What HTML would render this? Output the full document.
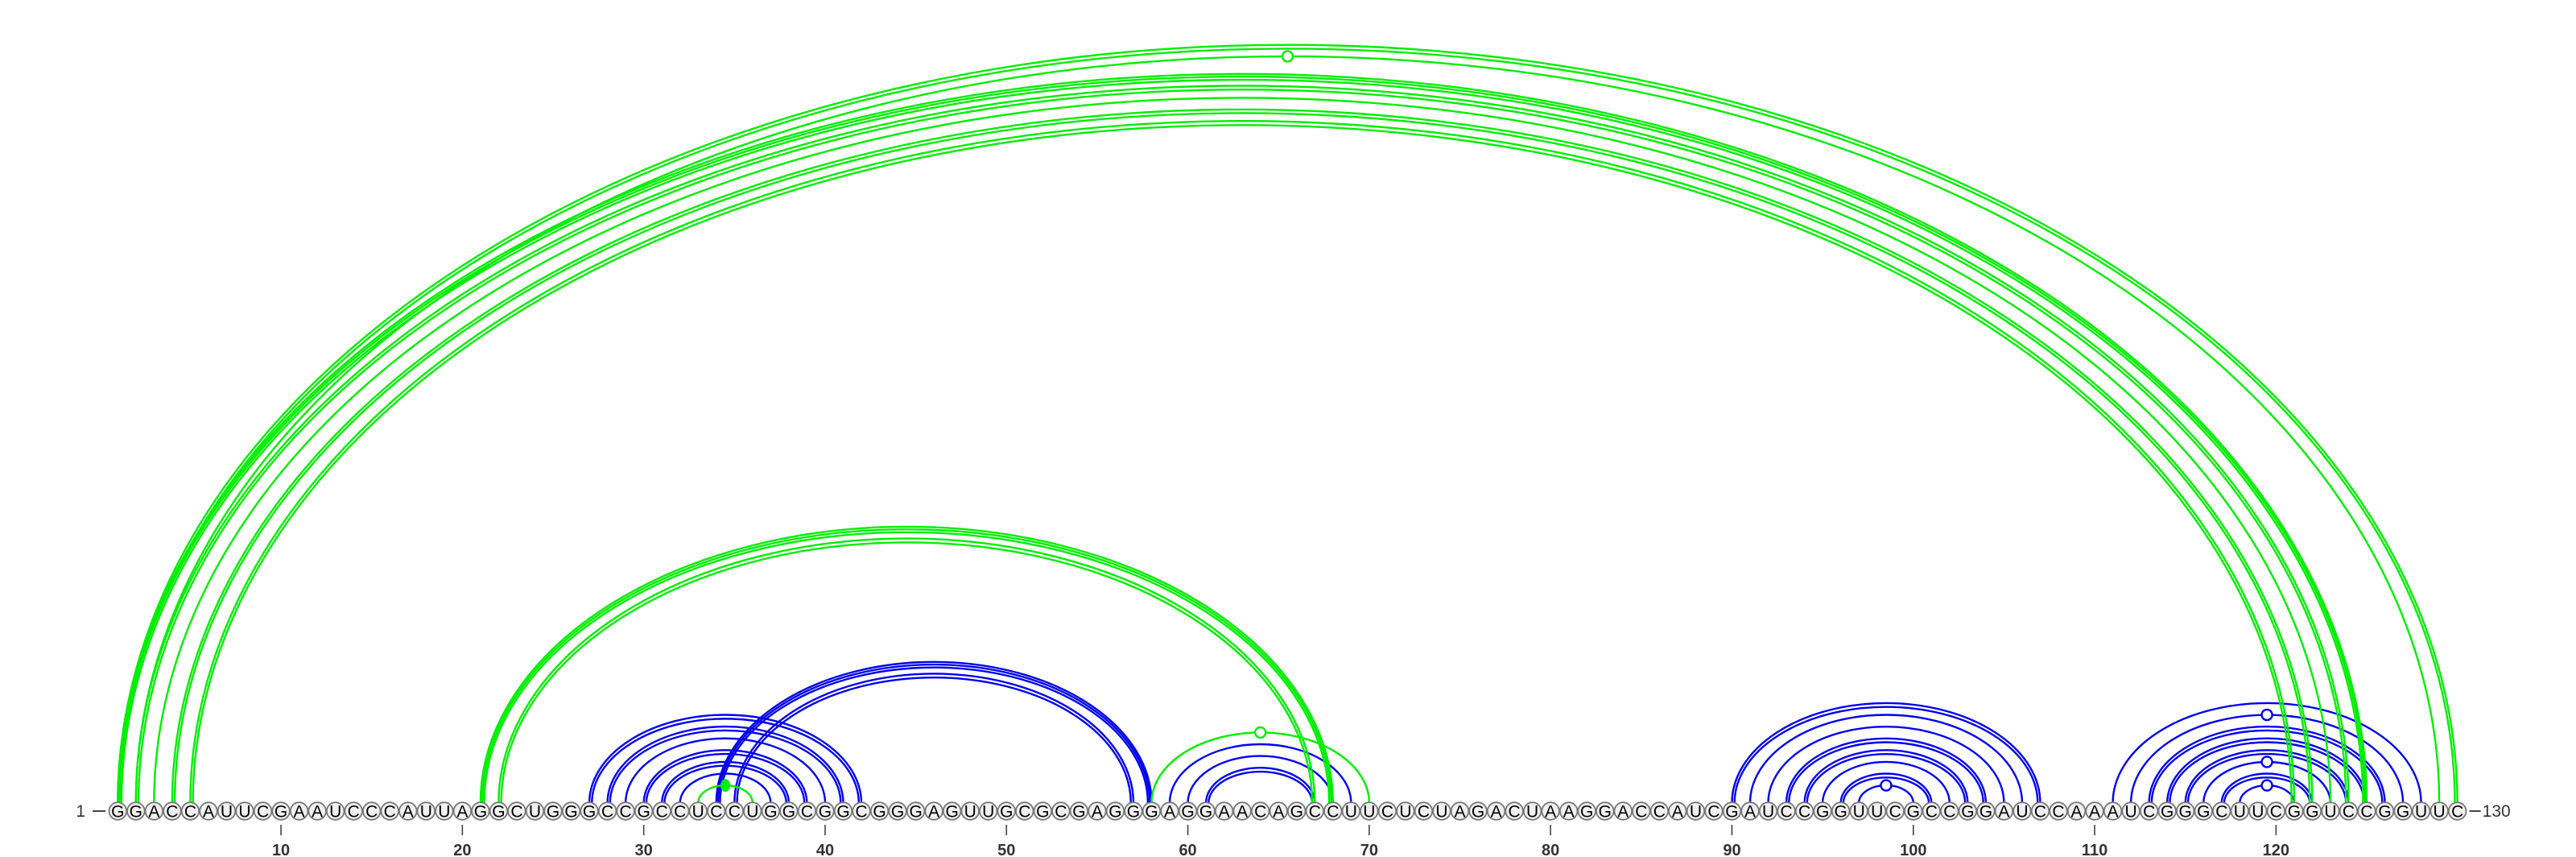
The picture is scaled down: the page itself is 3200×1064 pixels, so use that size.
<!DOCTYPE html>
<html><head><meta charset="utf-8"><style>
html,body{margin:0;padding:0;background:#fff;}
svg{display:block;}
text{font-family:"Liberation Sans",sans-serif;}
</style></head><body>
<svg id="chart" width="3200" height="1064" viewBox="0 0 3200 1064" xmlns="http://www.w3.org/2000/svg">
<g id="arcs"></g>
<g id="seq"></g>
<g id="axis"></g>
</svg>
<script>
const sequence = "GGACCAUUCGAAUCCCAUUAGGCUGGGCCGCCUCCUGGCGGCGGGAGUUGCGCGAGGGAGGAACAGCCUUCUCUAGACUAAGGACCAUCGAUCCGGUUCGCCGGAUCCAAAUCGGGCUUCGGUCCGGUUC";
const tickPositions = [10,20,30,40,50,60,70,80,90,100,110,120];
const arcStart  = [27,28,29,30,31,32,34,35,59,60,61,90,91,92,93,94,95,96,97,111,112,113,114,115,116,117,118, 1,2,1,2,3,4,5,21,22,33,58];
const arcEnd    = [42,41,40,39,38,37,58,57,69,68,67,107,106,105,104,103,102,101,100,128,127,126,125,124,123,122,121, 130,129,125,124,123,122,121,68,67,36,70];
const arcSeries = ["b","b","b","b","b","b","b","b","b","b","b","b","b","b","b","b","b","b","b","b","b","b","b","b","b","b","b", "g","g","g","g","g","g","g","g","g","g","g"];
const arcStyle  = ["d","d","s","d","d","s","t","d","s","s","d","d","s","s","d","d","s","d","s","s","s","d","d","d","s","d","s", "d","s","t","d","s","d","d","t","d","s","s"];
const arcMarker = ["","","","","","","","","","","","","","","","","","","o","","o","","","","o","","o", "","o","","","","","","","","f","o"];

const NS="http://www.w3.org/2000/svg";
const X0=146.3, DX=22.53, BASE=997, CY=1007;
const xPos = i => X0 + (i-1)*DX;
const colorOf = s => s==="g" ? "#00ee00" : "#0000ee";
const arcsG=document.getElementById('arcs');
const seqG=document.getElementById('seq');
const axG=document.getElementById('axis');

function arcPath(x1,x2,rx,ry){
  return `M${x1} ${BASE} A${rx} ${ry} 0 0 1 ${x2} ${BASE}`;
}
for(let k=0;k<arcStart.length;k++){
  const i=arcStart[k], j=arcEnd[k], col=colorOf(arcSeries[k]);
  const x1=xPos(i), x2=xPos(j);
  const rx=(x2-x1)/2, ry=rx*0.648;
  const g=document.createElementNS(NS,'g');
  
  
  const offs = arcStyle[k]==="d" ? [0,3.2] : arcStyle[k]==="t" ? [0,2.2,4.6] : [0];
  offs.forEach(o=>{
    const p=document.createElementNS(NS,'path');
    const r2=rx-o, ry2=ry-o*1.5;
    p.setAttribute('d',arcPath(x1+o,x2-o,r2,ry2));
    p.setAttribute('fill','none');
    p.setAttribute('stroke',col);
    p.setAttribute('stroke-width','2.4');
    
    
    g.appendChild(p);
  });
  if(arcMarker[k]){
    const m=document.createElementNS(NS,'ellipse');
    m.setAttribute('cx',(x1+x2)/2);
    m.setAttribute('cy',BASE-ry);
    if(arcMarker[k]==="f"){ m.setAttribute('rx',6); m.setAttribute('ry',8); m.setAttribute('fill',col); m.setAttribute('stroke','none'); }
    else { m.setAttribute('rx',6.5); m.setAttribute('ry',6.5); m.setAttribute('fill','#fff'); m.setAttribute('stroke',col); m.setAttribute('stroke-width','2.4'); }
    
    
    g.appendChild(m);
  }
  arcsG.appendChild(g);
}
for(let i=1;i<=sequence.length;i++){
  const x=xPos(i);
  const c=document.createElementNS(NS,'circle');
  c.setAttribute('cx',x); c.setAttribute('cy',CY); c.setAttribute('r',10.8);
  c.setAttribute('fill','#f0f0f0'); c.setAttribute('stroke','#777'); c.setAttribute('stroke-width','1.8');
  
  
  seqG.appendChild(c);
  const t=document.createElementNS(NS,'text');
  t.setAttribute('x',x); t.setAttribute('y',CY+7.5);
  t.setAttribute('text-anchor','middle'); t.setAttribute('font-size','21'); t.setAttribute('fill','#000');
  t.textContent=sequence[i-1];
  
  
  seqG.appendChild(t);
}
const n=sequence.length;
const s1=document.createElementNS(NS,'text');
s1.setAttribute('x',106); s1.setAttribute('y',CY+7); s1.setAttribute('font-size','21'); s1.setAttribute('fill','#333'); s1.setAttribute('text-anchor','end');
s1.textContent='1';


axG.appendChild(s1);
const l1=document.createElementNS(NS,'line');
l1.setAttribute('x1',115); l1.setAttribute('x2',131); l1.setAttribute('y1',CY); l1.setAttribute('y2',CY); l1.setAttribute('stroke','#444'); l1.setAttribute('stroke-width','2');


axG.appendChild(l1);
const l2=document.createElementNS(NS,'line');
l2.setAttribute('x1',xPos(n)+15); l2.setAttribute('x2',xPos(n)+29); l2.setAttribute('y1',CY); l2.setAttribute('y2',CY); l2.setAttribute('stroke','#444'); l2.setAttribute('stroke-width','2');


axG.appendChild(l2);
const s2=document.createElementNS(NS,'text');
s2.setAttribute('x',xPos(n)+31); s2.setAttribute('y',CY+7); s2.setAttribute('font-size','21'); s2.setAttribute('fill','#333');
s2.textContent=String(n);


axG.appendChild(s2);
tickPositions.forEach(p=>{
  const x=xPos(p);
  const tl=document.createElementNS(NS,'line');
  tl.setAttribute('x1',x); tl.setAttribute('x2',x); tl.setAttribute('y1',1024); tl.setAttribute('y2',1037);
  tl.setAttribute('stroke','#444'); tl.setAttribute('stroke-width','1.6');
  
  
  axG.appendChild(tl);
  const tt=document.createElementNS(NS,'text');
  tt.setAttribute('x',x); tt.setAttribute('y',1062); tt.setAttribute('text-anchor','middle');
  tt.setAttribute('font-size','20'); tt.setAttribute('fill','#333'); tt.setAttribute('font-weight','bold');
  tt.textContent=String(p);
  
  
  axG.appendChild(tt);
});
</script>
</body></html>
